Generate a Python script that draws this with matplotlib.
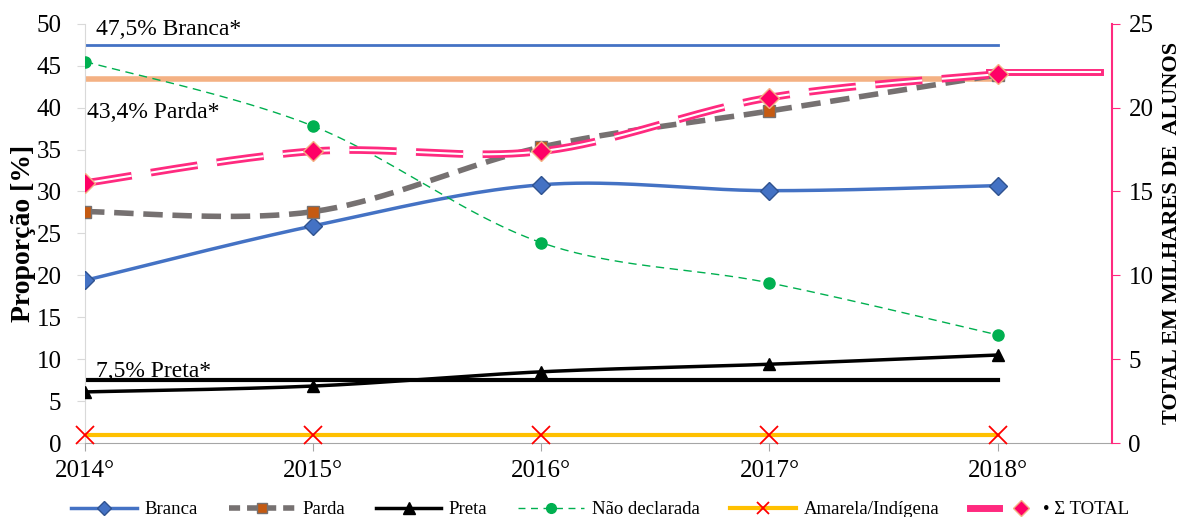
import numpy as np
import matplotlib
matplotlib.use("Agg")
import matplotlib.pyplot as plt
from matplotlib.lines import Line2D
from matplotlib.legend_handler import HandlerTuple

plt.rcParams['font.family'] = ['Liberation Serif', 'DejaVu Serif']
plt.rcParams['lines.scale_dashes'] = False

years = [2014, 2015, 2016, 2017, 2018]
year_labels = ['2014°', '2015°', '2016°', '2017°', '2018°']

branca = [19.4, 25.9, 30.8, 30.1, 30.7]
parda = [27.6, 27.6, 35.3, 39.6, 43.9]
preta = [6.1, 6.8, 8.5, 9.4, 10.5]
nao_declarada = [45.5, 37.8, 23.9, 19.1, 12.9]
amarela = [1.0, 1.0, 1.0, 1.0, 1.0]
total = [15.5, 17.4, 17.4, 20.6, 22.0]      # milhares de alunos (eixo direito)

ref_branca, ref_parda, ref_preta = 47.5, 43.4, 7.5
total_ref = 22.1

PINK = '#FF2A7F'


def smooth(x, y, n=40):
    # curva suavizada tipo Excel (Catmull-Rom)
    p = np.column_stack([x, y]).astype(float)
    p = np.vstack([p[0], p, p[-1]])
    out = []
    for i in range(1, len(p) - 2):
        p0, p1, p2, p3 = p[i - 1], p[i], p[i + 1], p[i + 2]
        t = np.linspace(0, 1, n)[:, None]
        seg = 0.5 * ((2 * p1) + (-p0 + p2) * t + (2 * p0 - 5 * p1 + 4 * p2 - p3) * t ** 2
                     + (-p0 + 3 * p1 - 3 * p2 + p3) * t ** 3)
        out.append(seg)
    out = np.vstack(out)
    return out[:, 0], out[:, 1]


fig = plt.figure(figsize=(11.89, 5.17), dpi=100)
ax = fig.add_axes([0.0715, 0.143, 0.8635, 0.811])
ax2 = ax.twinx()

# linhas de referência
ax.plot([years[0], years[-1]], [ref_branca] * 2, color='#4472C4', lw=2, zorder=1)
ax.plot([years[0], years[-1] + 0.02], [ref_parda] * 2, color='#F4B183', lw=4, zorder=1)
ax.plot([years[0], years[-1]], [ref_preta] * 2, color='black', lw=3, zorder=1)
ax.text(2014.05, 48.7, '47,5% Branca*', fontsize=17)
ax.text(2014.01, 38.8, '43,4% Parda*', fontsize=17)
ax.text(2014.05, 7.9, '7,5% Preta*', fontsize=17)

# séries
xs, ys = smooth(years, branca)
ax.plot(xs, ys, color='#4472C4', lw=2.5, zorder=3)
ax.plot(years, branca, 'D', color='#4472C4', mec='#2F528F', ms=9, zorder=4)

xs, ys = smooth(years, parda)
ax.plot(xs, ys, color='#767171', lw=4, dashes=(14, 7), zorder=3)
ax.plot(years, parda, 's', color='#C55A11', mec='#767171', ms=9, zorder=4)

xs, ys = smooth(years, preta)
ax.plot(xs, ys, color='black', lw=2.5, zorder=3)
ax.plot(years, preta, '^', color='black', ms=9, zorder=4)

xs, ys = smooth(years, nao_declarada)
ax.plot(xs, ys, color='#00B050', lw=1, dashes=(6, 4), zorder=3)
ax.plot(years, nao_declarada, 'o', color='#00B050', ms=8, zorder=4)

ax.plot(years, amarela, color='#FFC000', lw=3, zorder=3)
ax.plot(years, amarela, 'x', color='red', ms=13, mew=1.3, zorder=4, clip_on=False)

# total (eixo direito)
xs, ys = smooth(years, total)
ax2.plot(xs, ys, color=PINK, lw=5.5, dashes=(34, 14), zorder=3)
ax2.plot(xs, ys, color='white', lw=1.5, dashes=(34, 14), zorder=3)
ax2.plot(years, total, 'D', color='#FF0066', mec='#F4B183', ms=10, zorder=4)
ax2.plot([years[-1] - 0.04, years[-1] + 0.45], [total_ref] * 2, color=PINK, lw=5, zorder=2)
ax2.plot([years[-1] - 0.04, years[-1] + 0.45], [total_ref] * 2, color='white', lw=1.5, zorder=2)

ax.set_xlim(2014, 2018.5)
ax.set_ylim(0, 50)
ax2.set_ylim(0, 25)
ax.set_xticks(years)
ax.set_xticklabels(year_labels, fontsize=18)
ax.set_yticks(np.arange(0, 51, 5))
ax.tick_params(axis='y', labelsize=18, length=6, color='#D9D9D9', pad=11)
ax.tick_params(axis='x', length=6, color='#A6A6A6', pad=6)
ax2.set_yticks(np.arange(0, 26, 5))
ax2.tick_params(axis='y', labelsize=18, length=6, color=PINK, pad=6)

for a in (ax, ax2):
    a.spines['top'].set_visible(False)
ax.spines['right'].set_visible(False)
ax.spines['left'].set_color('#D9D9D9')
ax.spines['bottom'].set_color('#A6A6A6')
ax2.spines['left'].set_visible(False)
ax2.spines['bottom'].set_visible(False)
ax2.spines['right'].set_color(PINK)
ax2.spines['right'].set_linewidth(1.5)

ax.set_ylabel('Proporção [%]', fontsize=20, fontweight='bold', labelpad=0)
ax2.set_ylabel('TOTAL EM MILHARES DE  ALUNOS', fontsize=16, fontweight='bold',
               labelpad=6)

# legenda
h_branca = Line2D([], [], color='#4472C4', lw=2.5, marker='D', mfc='#4472C4', mec='#2F528F', ms=7)
h_parda = Line2D([], [], color='#767171', lw=4, dashes=(8, 5), marker='s', mfc='#C55A11', mec='#767171', ms=7)
h_preta = Line2D([], [], color='black', lw=2.5, marker='^', ms=8)
h_nao = Line2D([], [], color='#00B050', lw=1, dashes=(5, 4), marker='o', ms=7)
h_am = Line2D([], [], color='#FFC000', lw=3, marker='x', mec='red', ms=9, mew=1.3)
h_t1 = Line2D([], [], color=PINK, lw=5)
h_t2 = Line2D([], [], color='white', lw=1.5, marker='D', mfc='#FF0066', mec='#F4B183', ms=8)
fig.legend([h_branca, h_parda, h_preta, h_nao, h_am, (h_t1, h_t2)],
           ['Branca', 'Parda', 'Preta', 'Não declarada', 'Amarela/Indígena', '• Σ TOTAL'],
           handler_map={tuple: HandlerTuple(ndivide=None)},
           loc='lower center', bbox_to_anchor=(0.505, -0.035), ncol=6, frameon=False,
           fontsize=13.5, handlelength=3.5, columnspacing=1.65, handletextpad=0.4)

fig.savefig('out.png', dpi=100)
